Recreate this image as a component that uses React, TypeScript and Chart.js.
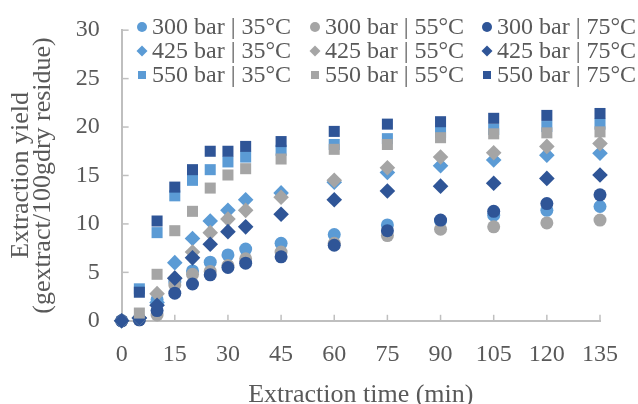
import React, { useEffect, useRef } from 'react';
import { Chart, registerables } from 'chart.js';

Chart.register(...registerables);

const times = [0, 5, 10, 15, 20, 25, 30, 35, 45, 60, 75, 90, 105, 120, 135];
const xTicks = [0, 15, 30, 45, 60, 75, 90, 105, 120, 135];

const s300_35 = [0, 0.2, 2.2, 4.0, 5.15, 6.05, 6.8, 7.4, 8.0, 8.9, 9.9, 10.3, 10.9, 11.4, 11.8];
const s300_55 = [0, 0.1, 0.6, 3.7, 4.8, 5.1, 5.7, 6.4, 7.1, 8.0, 8.8, 9.45, 9.7, 10.1, 10.4];
const s300_75 = [0, 0.1, 1.06, 2.85, 3.8, 4.75, 5.5, 5.95, 6.6, 7.8, 9.3, 10.4, 11.3, 12.1, 13.0];
const s425_35 = [0, 0.3, 1.9, 6.0, 8.5, 10.3, 11.4, 12.5, 13.2, 14.3, 15.3, 16.0, 16.6, 17.1, 17.3];
const s425_55 = [0, 0.3, 2.8, 4.4, 7.1, 9.1, 10.5, 11.4, 12.75, 14.5, 15.8, 16.9, 17.35, 18.0, 18.3];
const s425_75 = [0, 0.3, 1.6, 4.4, 6.5, 7.9, 9.2, 9.7, 11.0, 12.5, 13.4, 13.9, 14.2, 14.7, 15.05];
const s550_35 = [null, 3.3, 9.1, 12.9, 14.5, 15.6, 16.4, 16.9, 17.6, 18.2, 18.8, 19.45, 19.75, 20.05, 20.3];
const s550_55 = [null, 0.8, 4.8, 9.3, 11.3, 13.7, 15.05, 15.7, 16.7, 17.7, 18.2, 18.9, 19.3, 19.4, 19.5];
const s550_75 = [null, 2.95, 10.3, 13.8, 15.6, 17.5, 17.5, 18.0, 18.5, 19.55, 20.3, 20.55, 20.9, 21.2, 21.4];

const seriesLabels = [
  '300 bar | 35°C', '300 bar | 55°C', '300 bar | 75°C',
  '425 bar | 35°C', '425 bar | 55°C', '425 bar | 75°C',
  '550 bar | 35°C', '550 bar | 55°C', '550 bar | 75°C',
];
const seriesValues = [s300_35, s300_55, s300_75, s425_35, s425_55, s425_75, s550_35, s550_55, s550_75];

const LIGHT = '#5B9BD5';
const GREY = '#A5A5A5';
const DARK = '#2F5597';
const colors = [LIGHT, GREY, DARK];
const shapes = ['circle', 'rectRot', 'rect'];
const radii = [6.5, 7.8, 7.8];

const FONT = "'Liberation Serif', 'Times New Roman', serif";
const TEXT = '#595959';
const AXIS = '#BFBFBF';

const tickMarks = {
  id: 'tickMarks',
  beforeDatasetsDraw(chart: any) {
    const { ctx, chartArea, scales } = chart;
    ctx.save();
    ctx.strokeStyle = AXIS;
    ctx.lineWidth = 1.5;
    scales.x.ticks.forEach((t: any) => {
      const px = scales.x.getPixelForValue(t.value);
      ctx.beginPath();
      ctx.moveTo(px, chartArea.bottom);
      ctx.lineTo(px, chartArea.bottom - 6);
      ctx.stroke();
    });
    scales.y.ticks.forEach((t: any) => {
      const py = scales.y.getPixelForValue(t.value);
      ctx.beginPath();
      ctx.moveTo(chartArea.left, py);
      ctx.lineTo(chartArea.left + 7, py);
      ctx.stroke();
    });
    ctx.restore();
  },
};

const overlayLegend = {
  id: 'overlayLegend',
  afterDraw(chart: any) {
    const { ctx } = chart;
    const colX = [142, 315, 487];
    const rowY = [27, 51, 75];
    ctx.save();
    ctx.font = `24px ${FONT}`;
    ctx.textBaseline = 'middle';
    ctx.textAlign = 'left';
    chart.data.datasets.forEach((ds: any, i: number) => {
      const col = i % 3;
      const row = Math.floor(i / 3);
      const x = colX[col];
      const y = rowY[row];
      ctx.fillStyle = ds.backgroundColor;
      ctx.beginPath();
      if (ds.pointStyle === 'circle') {
        ctx.arc(x, y, 5, 0, Math.PI * 2);
      } else if (ds.pointStyle === 'rectRot') {
        ctx.moveTo(x, y - 5.5);
        ctx.lineTo(x + 5.5, y);
        ctx.lineTo(x, y + 5.5);
        ctx.lineTo(x - 5.5, y);
        ctx.closePath();
      } else {
        ctx.rect(x - 4, y - 4, 8, 8);
      }
      ctx.fill();
      ctx.fillStyle = TEXT;
      ctx.fillText(ds.label, x + 10, y + 1);
    });
    ctx.restore();
  },
};

export default function App() {
  const canvasRef = useRef<HTMLCanvasElement | null>(null);

  useEffect(() => {
    document.body.style.margin = '0';
    const canvas = canvasRef.current;
    if (!canvas) return;

    const datasets = seriesValues.map((vals, i) => {
      const c = i % 3;
      const s = Math.floor(i / 3);
      return {
        label: seriesLabels[i],
        data: times
          .map((t, j) => ({ x: t, y: vals[j] }))
          .filter((p) => p.y !== null && p.y !== undefined),
        backgroundColor: colors[c],
        borderColor: colors[c],
        borderWidth: 0,
        pointStyle: shapes[s],
        pointRadius: radii[s],
        pointHoverRadius: radii[s],
        showLine: false,
        clip: false,
        order: seriesValues.length - i,
      };
    });

    const chart = new Chart(canvas, {
      type: 'scatter',
      data: { datasets },
      plugins: [tickMarks, overlayLegend],
      options: {
        animation: false,
        responsive: false,
        maintainAspectRatio: false,
        devicePixelRatio: 1,
        layout: { padding: { left: 11, right: 19, top: 10, bottom: 0 } },
        plugins: {
          legend: { display: false },
          tooltip: { enabled: false },
        },
        scales: {
          x: {
            type: 'linear',
            min: 0,
            max: 135,
            afterBuildTicks: (scale: any) => {
              scale.ticks = xTicks.map((v) => ({ value: v }));
            },
            grid: { display: false, drawTicks: false },
            border: { display: true, color: AXIS, width: 2 },
            ticks: {
              color: TEXT,
              font: { family: FONT, size: 24 },
              padding: 20,
              maxRotation: 0,
              autoSkip: false,
            },
            title: {
              display: true,
              text: 'Extraction time (min)',
              color: TEXT,
              font: { family: FONT, size: 26, lineHeight: 0.4 },
              padding: { top: 0, bottom: 4 },
            },
          },
          y: {
            type: 'linear',
            min: 0,
            max: 30,
            ticks: {
              stepSize: 5,
              color: TEXT,
              font: { family: FONT, size: 24, lineHeight: 0.68 },
              padding: 22,
            },
            grid: { display: false, drawTicks: false },
            border: { display: true, color: AXIS, width: 2 },
            title: {
              display: true,
              text: ['Extraction yield', '(gextract/100gdry residue)'],
              color: TEXT,
              font: { family: FONT, size: 26, lineHeight: 0.82 },
              padding: { top: 0, bottom: 0 },
            },
          },
        },
      },
    });

    return () => chart.destroy();
  }, []);

  return (
    <div style={{ width: 638, height: 404, position: 'relative' }}>
      <canvas ref={canvasRef} width={638} height={404} style={{ display: 'block' }} />
    </div>
  );
}
